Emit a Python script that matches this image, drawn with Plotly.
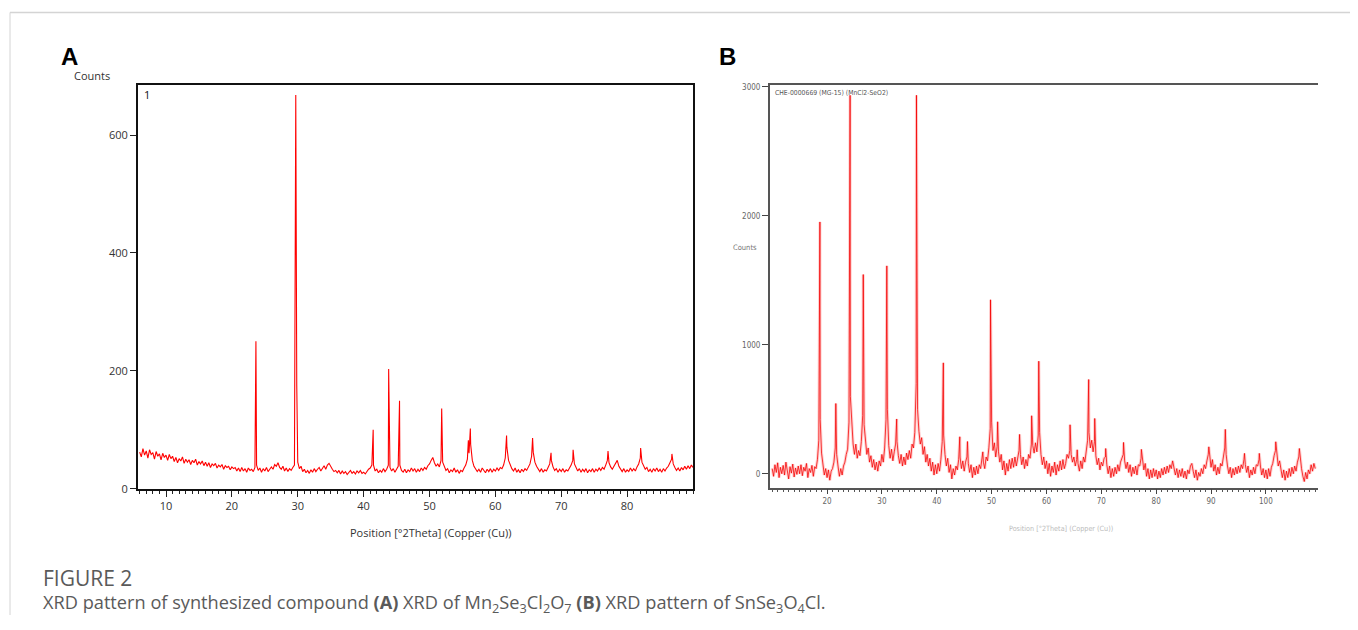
import numpy as np
import plotly.graph_objects as go

# The viewer page body has an 8px margin: the figure is sized so that it fits
# inside the 1358x630 window.  SY compensates a slight vertical squeeze seen
# in the photographed page.
PAGE_W, PAGE_H, BODY = 1358, 630, 8
W, H = PAGE_W - 2 * BODY, PAGE_H - 2 * BODY
SY = 1 / 0.986

# ---------------- Panel A data (Mn2Se3Cl2O7) ----------------
a_grid_start, a_grid_stop, a_grid_step = 6.0, 90.0, 0.25
a_background = [
    62, 54, 68, 57, 64, 52, 66, 58, 61, 50, 63, 55, 59, 49, 60, 53, 57, 48, 58, 51,
    55, 46, 53, 44, 51, 47, 54, 43, 50, 45, 49, 41, 48, 44, 50, 40, 46, 42, 47, 39,
    45, 38, 44, 36, 42, 39, 43, 35, 40, 37, 41, 33, 39, 36, 38, 32, 37, 34, 36, 30,
    35, 29, 36, 30, 34, 28, 35, 31, 33, 29, 36, 40, 31, 35, 28, 34, 30, 36, 29, 33,
    37, 33, 41, 38, 44, 36, 33, 38, 30, 35, 29, 34, 31, 36, 40, 300, 45, 34, 38, 29,
    33, 27, 31, 26, 32, 28, 34, 29, 33, 36, 30, 35, 39, 33, 40, 43, 37, 33, 29, 31,
    27, 31, 25, 30, 26, 29, 24, 28, 31, 26, 29, 25, 30, 27, 31, 26, 28, 25, 30, 33,
    35, 40, 40, 30, 33, 27, 31, 28, 34, 29, 33, 40, 36, 30, 34, 28, 33, 38, 40, 31,
    28, 33, 27, 32, 29, 35, 30, 34, 28, 33, 29, 35, 31, 36, 33, 39, 42, 48, 53, 44,
    38, 42, 37, 48, 45, 36, 31, 34, 27, 32, 29, 35, 28, 32, 26, 31, 29, 35, 40, 50,
    60, 75, 48, 38, 34, 29, 33, 28, 35, 30, 27, 33, 29, 34, 28, 33, 30, 35, 31, 36,
    34, 40, 52, 70, 48, 40, 34, 30, 35, 28, 32, 27, 33, 29, 34, 31, 37, 42, 55, 62,
    45, 38, 33, 29, 34, 28, 32, 30, 36, 42, 48, 37, 31, 34, 28, 33, 29, 34, 28, 32,
    30, 35, 40, 48, 42, 35, 30, 34, 28, 33, 29, 34, 27, 32, 29, 34, 28, 33, 30, 35,
    31, 36, 33, 40, 48, 44, 37, 33, 38, 42, 48, 38, 33, 29, 34, 28, 32, 29, 35, 30,
    34, 30, 37, 42, 52, 45, 38, 33, 36, 29, 33, 28, 34, 30, 35, 29, 33, 28, 34, 30,
    35, 38, 44, 50, 42, 36, 31, 35, 30, 36, 32, 38, 33, 39, 34, 40, 36,
]
a_peak_pos = [23.65, 29.7, 29.85, 41.45, 43.8, 45.45, 51.85, 55.9, 56.2,
              61.7, 65.65, 68.45, 71.8, 77.1, 82.05, 86.8]
a_peak_counts = [250, 668, 175, 100, 203, 149, 136, 82, 102,
                 90, 86, 61, 66, 64, 69, 59]
a_xticks = [10, 20, 30, 40, 50, 60, 70, 80]
a_yticks = [0, 200, 400, 600]

# ---------------- Panel B data (SnSe3O4Cl) ----------------
b_grid_start, b_grid_stop, b_grid_step = 10.0, 109.0, 0.25
b_background = [
    40, -20, 70, 10, 85, -30, 50, 0, 65, -10, 90, 20, -40, 55, 5, 75, -25, 45, -5, 60,
    0, 70, -15, 50, 20, 80, -30, 40, 10, 65, -20, 55, 40, 110, 260, 420, 160, 60, -10, 40,
    -30, 30, -50, 20, 40, 90, 200, 150, 60, -20, 40, -10, 60, 90, 150, 190, 400, 600, 350, 230,
    150, 230, 120, 180, 140, 250, 450, 380, 240, 150, 200, 90, 140, 50, 110, 30, 90, 20, 100, 60,
    150, 90, 200, 420, 500, 220, 120, 190, 100, 170, 230, 250, 140, 80, 150, 60, 130, 70, 160, 110,
    180, 120, 230, 200, 320, 700, 500, 330, 230, 280, 150, 210, 90, 150, 60, 120, 20, 90, -10, 70,
    0, 80, 20, 110, 250, 300, 150, 60, 120, 10, 70, -40, 40, -10, 60, 30, 110, 130, 40, 100,
    20, 90, 130, 80, 10, 70, -30, 50, -10, 60, 0, 70, 40, 110, 90, 40, 130, 100, 200, 350,
    400, 180, 240, 130, 210, 170, 90, 150, 30, 100, -10, 80, 20, 110, 40, 120, 50, 130, 60, 140,
    180, 150, 70, 130, 40, 110, 60, 150, 120, 230, 220, 160, 240, 170, 300, 320, 150, 70, 130, 40,
    100, 0, 80, -20, 60, 10, 90, -10, 70, 20, 100, 30, 110, 40, 80, 150, 120, 180, 150, 90,
    130, 60, 110, 80, 20, 100, 40, 130, 90, 180, 260, 320, 200, 260, 170, 250, 140, 70, 120, 30,
    90, 60, 120, 130, 70, 0, 60, -30, 40, -20, 50, 0, 70, 20, 90, 120, 150, 100, 40, 90,
    10, 70, -20, 50, 0, 60, -10, 70, 60, 120, 90, 30, 80, -20, 40, -40, 30, -30, 40, -20,
    30, -40, 20, -30, 40, -10, 50, 0, 60, 10, 70, 40, 100, 50, -10, 40, -30, 30, -20, 40,
    -30, 20, -40, 30, 0, 60, 80, 20, -30, 30, -50, 10, -20, 40, 0, 70, 40, 100, 150, 120,
    50, 110, 20, 70, -10, 50, 0, 80, 60, 130, 200, 150, 60, 0, 50, -30, 40, -10, 50, 0,
    60, 10, 70, 40, 110, 70, 10, 60, -30, 30, -10, 50, 0, 70, 60, 110, 60, -10, 40, -30,
    30, -40, 40, -20, 50, 80, 140, 180, 130, 60, 100, 20, -30, 30, -50, 20, -30, 40, -20, 50,
    0, 60, 20, 90, 130, 110, 40, -20, -60, 10, -40, 30, 0, 70, 20, 80, 40,
]
b_peak_pos = [18.7, 21.6, 24.2, 26.6, 30.9, 32.7, 36.3, 41.2, 44.2, 45.6,
              48.4, 49.8, 51.1, 55.1, 57.3, 58.6, 64.3, 65.6, 67.7, 68.8,
              70.8, 74.05, 77.3, 89.6, 92.6, 96.1, 98.8, 101.8, 106.1]
b_peak_counts = [1953, 545, 2935, 1545, 1612, 425, 2935, 860, 287, 250,
                 170, 1349, 403, 305, 450, 873, 380, 186, 731, 429,
                 196, 243, 189, 209, 344, 158, 158, 248, 196]
b_xticks = [20, 30, 40, 50, 60, 70, 80, 90, 100]
b_yticks = [0, 1000, 2000, 3000]


def merge(start, stop, step, bg, ppos, pcnt):
    gx = start + step * np.arange(len(bg))
    assert abs(gx[-1] - stop) < 1e-9, (gx[-1], stop)
    x = np.concatenate([gx, np.array(ppos)])
    y = np.concatenate([np.array(bg, float), np.array(pcnt, float)])
    o = np.argsort(x, kind="stable")
    return x[o], y[o]


ax, ay = merge(a_grid_start, a_grid_stop, a_grid_step, a_background, a_peak_pos, a_peak_counts)
bx, by = merge(b_grid_start, b_grid_stop, b_grid_step, b_background, b_peak_pos, b_peak_counts)


def px(x):
    return (x - BODY) / W


def py(y):
    return 1 - (y - BODY) * SY / H


fig = go.Figure()
fig.add_trace(go.Scatter(x=ax, y=ay, mode="lines", xaxis="x", yaxis="y",
                         line=dict(color="#ff0000", width=1.1), showlegend=False,
                         hoverinfo="skip"))
fig.add_trace(go.Scatter(x=bx, y=by, mode="lines", xaxis="x2", yaxis="y2",
                         line=dict(color="rgba(255,120,120,0.35)", width=3),
                         showlegend=False, hoverinfo="skip"))
fig.add_trace(go.Scatter(x=bx, y=by, mode="lines", xaxis="x2", yaxis="y2",
                         line=dict(color="rgba(245,0,0,0.85)", width=0.9),
                         showlegend=False, hoverinfo="skip"))

tickfontA = dict(family="Open Sans, DejaVu Sans, sans-serif", size=11, color="#333")
tickfontB = dict(family="Liberation Sans Narrow, DejaVu Sans Condensed, sans-serif",
                 size=8, color="#666")

fig.update_layout(
    width=W, height=H,
    margin=dict(l=0, r=0, t=0, b=0),
    paper_bgcolor="white", plot_bgcolor="white",
    xaxis=dict(domain=[px(138), px(693)], range=[5.75, 90.0], anchor="y",
               tickvals=a_xticks, ticks="outside", ticklen=6, tickwidth=1,
               tickcolor="#222", tickfont=tickfontA,
               minor=dict(dtick=1, ticks="outside", ticklen=3, tickcolor="#222", showgrid=False),
               showline=True, linecolor="#111", linewidth=2, mirror=True,
               showgrid=False, zeroline=False),
    yaxis=dict(domain=[py(487), py(83)], range=[0, 685], anchor="x",
               tickvals=a_yticks, ticks="outside", ticklen=6, tickwidth=1,
               tickcolor="#222", tickfont=tickfontA,
               showline=True, linecolor="#111", linewidth=2, mirror=True,
               showgrid=False, zeroline=False),
    xaxis2=dict(domain=[px(770), px(1318)], range=[9.6, 109.5], anchor="y2",
                tickvals=b_xticks, ticks="outside", ticklen=5, tickwidth=1,
                tickcolor="#444", tickfont=tickfontB,
                minor=dict(dtick=1, ticks="outside", ticklen=3, tickcolor="#555", showgrid=False),
                showline=True, linecolor="#555", linewidth=1.5, mirror=True,
                showgrid=False, zeroline=False),
    yaxis2=dict(domain=[py(486), py(83)], range=[-108, 3015], anchor="x2",
                tickvals=b_yticks, ticks="outside", ticklen=6, tickwidth=1,
                tickcolor="#444", tickfont=tickfontB,
                showline=True, linecolor="#555", linewidth=2,
                showgrid=False, zeroline=False),
)

shapes = [
    dict(type="line", xref="paper", yref="paper", x0=px(10), x1=1, y0=py(10.5), y1=py(10.5),
         line=dict(color="#d4d4d4", width=1.5)),
    dict(type="line", xref="paper", yref="paper", x0=px(10), x1=px(10), y0=py(10.5), y1=0,
         line=dict(color="#d4d4d4", width=1)),
]
fig.update_layout(shapes=shapes)

ann = []


def A(text, x, y, size, color="#000", family="Open Sans, sans-serif", xanchor="center", **kw):
    ann.append(dict(text=text, x=px(x), y=py(y), xref="paper", yref="paper",
                    showarrow=False, xanchor=xanchor, yanchor="middle",
                    font=dict(size=size, color=color, family=family), **kw))


A("<b>A</b>", 69, 55, 24, family="Liberation Sans, Arial, sans-serif")
A("<b>B</b>", 727, 55, 24, family="Liberation Sans, Arial, sans-serif")
A("Counts", 92, 74, 11, color="#333")
A("1", 147, 93, 11, color="#111")
A("Position [°2Theta] (Copper (Cu))", 430, 531, 11, color="#333")

narrow = "Liberation Sans Narrow, DejaVu Sans Condensed, sans-serif"
A("Counts", 745, 246, 7.5, color="#777", family=narrow)
A("CHE-0000669 (MG-15) (MnCl2-SeO2)", 773, 91, 6.8, color="#555", family=narrow, xanchor="left")
A("Position [°2Theta] (Copper (Cu))", 1061, 527, 7.2, color="#bbb", family=narrow)

A("FIGURE 2", 41, 576, 21, color="#5a5a5a", family="Open Sans, sans-serif", xanchor="left")
A("XRD pattern of synthesized compound <b>(A)</b> XRD of Mn<sub>2</sub>Se<sub>3</sub>Cl<sub>2</sub>O<sub>7</sub> "
  "<b>(B)</b> XRD pattern of SnSe<sub>3</sub>O<sub>4</sub>Cl.",
  41, 602, 18.2, color="#5a5a5a", family="Open Sans, sans-serif", xanchor="left")

fig.update_layout(annotations=ann)
fig.write_html("out.html")
